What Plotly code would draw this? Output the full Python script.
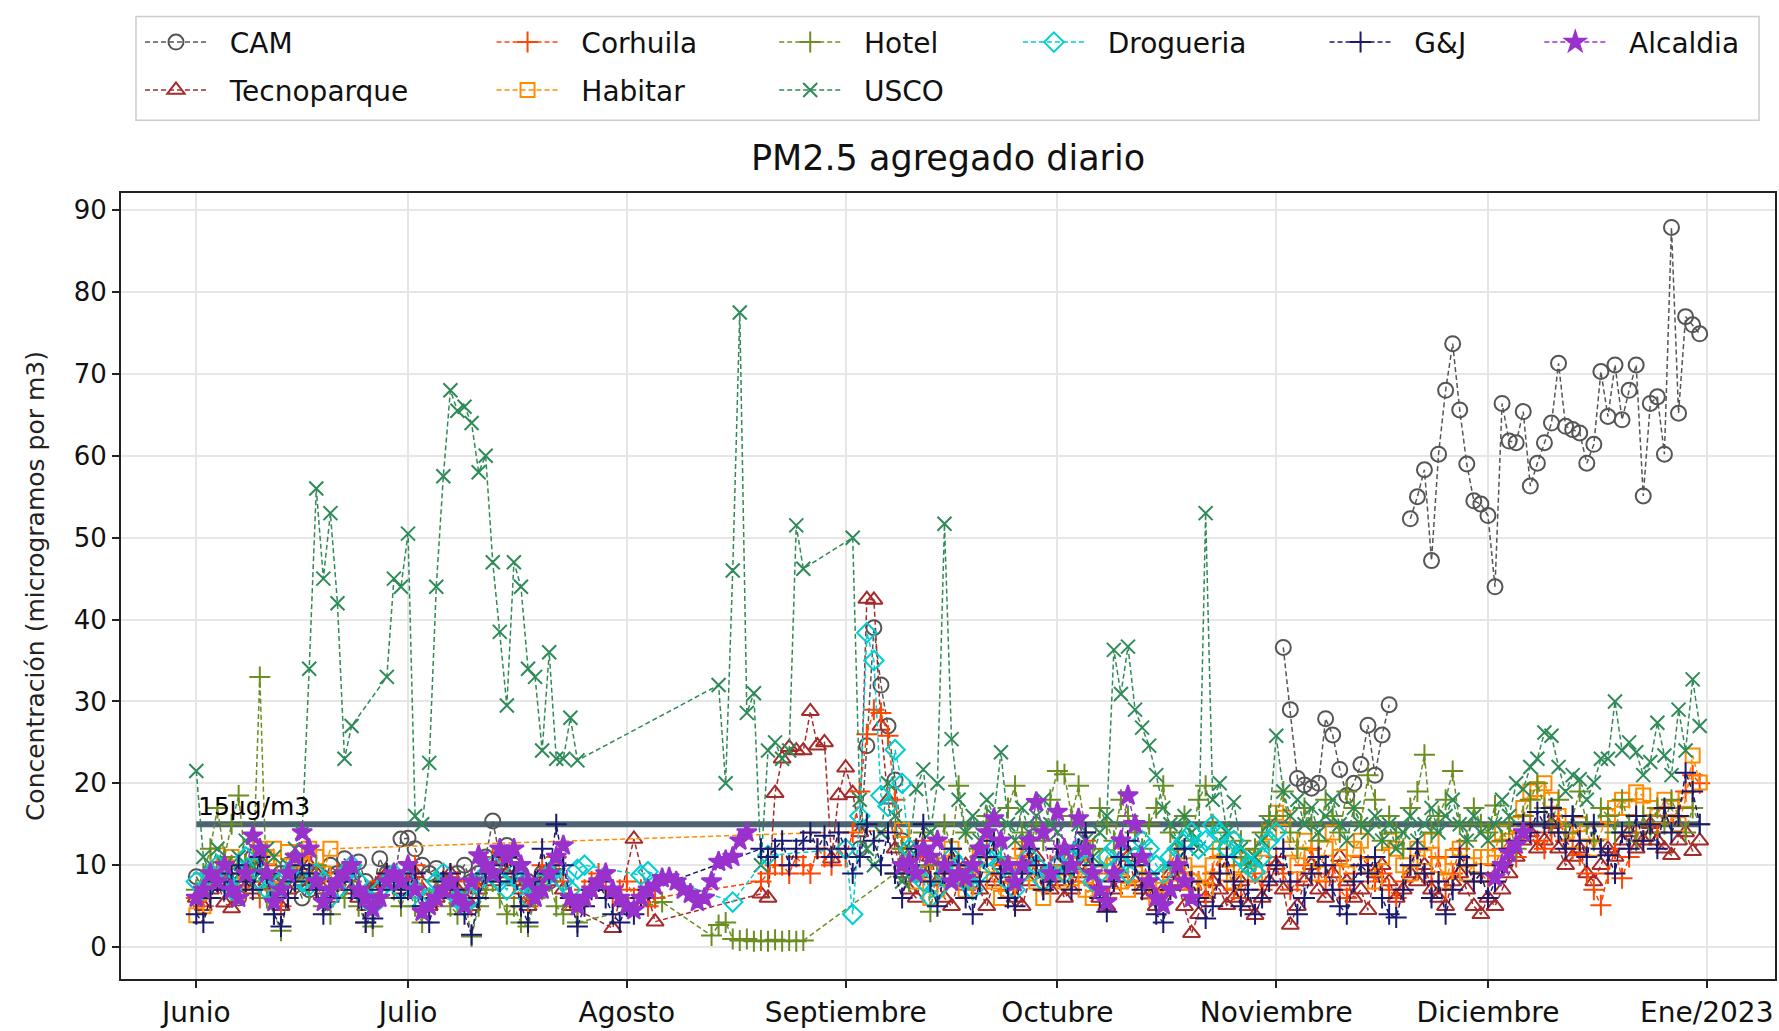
import pandas as pd
import plotly.graph_objects as go

N = None
dates = pd.date_range("2022-06-01", "2022-12-31", freq="D")
month_ticks = ["2022-06-01", "2022-07-01", "2022-08-01", "2022-09-01",
               "2022-10-01", "2022-11-01", "2022-12-01", "2023-01-01"]
month_labels = ["Junio", "Julio", "Agosto", "Septiembre", "Octubre",
                "Noviembre", "Diciembre", "Ene/2023"]
y_ticks = [0, 10, 20, 30, 40, 50, 60, 70, 80, 90]
threshold = 15

# ---------------- CAM ----------------
cam_jun = [8.6, 7, 9, 8, 10, 7, 6, 9, 11, 10, 8, 7, 9, 10, 8, 6, 7, 9, 8, 10, 9, 10.8, 9, 10.4, 8, 7, 10.8, 9, 8, 13.2]
cam_jul = [13.3, 12, 10, 9, 9.6, 8, 7, 9, 10, 8, 9, 11, 15.4, 11, 12.4, 10, 9, 8, 7, 9, 8] + [N] * 10
cam_aug = [N] * 31
cam_sep = [N, N, 12, 24.6, 39, 32, 27, 20.4, 13] + [N] * 21
cam_oct = [N] * 31
cam_nov = [N, 36.6, 29, 20.6, 19.8, 19.4, 20, 27.9, 25.9, 21.7, 18.5, 20, 22.3, 27.1, 21, 25.9, 29.6, N, N,
           52.3, 55, 58.3, 47.2, 60.2, 68.0, 73.7, 65.6, 59, 54.5, 54.1]
cam_dec = [52.7, 44, 66.4, 61.8, 61.6, 65.4, 56.3, 59.1, 61.6, 64, 71.3, 63.6, 63.2, 62.8, 59.1, 61.4,
           70.3, 64.8, 71.1, 64.4, 68, 71.1, 55.1, 66.4, 67.2, 60.2, 87.9, 65.2, 77, 76, 74.9]

# ---------------- Tecnoparque ----------------
tec_jun = [6, 5, 7, 8, 5.4, 4.7, 8, 9, 7, 10, 8, 6, 5, 7, 9, 8, 10, 9, 7, 6, 8, 9, 7, 6, 5, 7, 8, 9, 8, 7]
tec_jul = [8, 9, 7, 5, 6, 8, 9, 7, 6, 5, 7, 9, 8, 10, 9, 8, 7, 5, 7, 9, 8, 10, 7, 5, N, N, N, N, N, 2.3, N]
tec_aug = [N, 13.2, N, N, 3.1] + [N] * 14 + [6.5, 6, 18.8, 23, 24.4, 24, 24, 28.8, 24.6, 25, 10.8, 18.5]
tec_sep = [21.9, 18.8, 14, 42.5, 42.4, 27, 18, 12, 9, 7, 6, 9, 11, 8, 6, 5, 8, 10, 9, 7, 5, 8, 10, 9, 6, 5, 8, 11, 9, 7]
tec_oct = [8, 6, 7, 9, 10, 8, 6, 5, 7, 9, 11, 8, 7, 6.4, 5, 7, 9, 8, 5, 1.7, 4, 6, 8, 7, 5.1, 6, 8, 5, 3.9, 6, 8]
tec_nov = [10, 7, 2.7, 5, 8, 10, 7, 6, 9, 11, 8, 6, 7, 4.5, 9, 10, 8, 6, 7, 9, 8, 10, 7, 6, 5, 8, 9, 7, 5, 4]
tec_dec = [6, 5, 7, 9, 11, 13, 14, 12, 13, 15, 12, 10, 11, 12, 9, 8, 10, 12, 11, 13, 14, 12, 13, 15, 13, 12, 11.2, 13, 14, 11.7, 13]

# ---------------- Corhuila ----------------
cor_jun = [6, 5, 7, 9, 8, 10, 9, 7, 8, 6, 10, 7, 5, 8, 9, 11, 10, 8, 6, 7, 9, 8, 10, 7, 6, 5, 8, 9, 7, 8]
cor_jul = [9, 10, 7, 5, 6, 8, 9, 8, 6, 5, 7, 9, 11, 10, 9, 8, 6, 5, 8, 10, 9, 11, 8, 6, 5, 7, 8, 9, 7, 6, 7]
cor_aug = [8, 6, 7, 5, 6] + [N] * 14 + [8, 9, 10, 10, 9, 11, 10, 9, 12, 11, 10, 12]
cor_sep = [11, 14, 19, 26, 29, 28.6, 25.8, 18, 12, 9, 11, 13, 10, 8, 9, 12, 10, 7, 8, 11, 12, 10, 8, 7, 9, 12, 11, 9, 7, 10]
cor_oct = [12, 10, 8, 11, 13, 9, 7, 6, 9, 11, 12, 10, 8, 9, 6, 7, 10, 12, 9, 7, 8, 6, 9, 11, 10, 7, 6, 8, 9, 7, 10]
cor_nov = [11, 9, 7, 8, 10, 12, 9, 8, 10, 7, 6, 9, 11, 10, 8, 9, 7, 6, 8, 10, 12, 9, 8, 11, 7, 9, 12, 10, 8, 9]
cor_dec = [8, 10, 12, 13, 11, 14, 15, 13, 12, 14, 16, 13, 12, 11.2, 9, 7, 5.1, 9, 12, 8.4, 11, 14, 13, 15, 14, 16, 15, 17, 19, 21, 20]

# ---------------- Habitar ----------------
hab_jun = [3.9, 5, 8, 11.2, 10, 11, 9, 8, 10, 12, 11, 12, 7, 11.6, 9, 10, 12, 11, 9, 12] + [N] * 10
hab_jul = [N] * 31
hab_aug = [N] * 31
hab_sep = [N] * 8 + [14.3, 10, 8, 9, 6, 7, 10, 12, 9, 7, 8, 11, 10, 8, 6, 7, 10, 12, 9, 8, 6, 9]
hab_oct = [9, 8, 8.4, 10, 7, 6, 9, 11, 10, 8, 7, 9, 10, 8, 6, 7, 9, 11, 10, 8, 9, 7, 10, 12, 9, 8, 10, 11, 9, 12, 14]
hab_nov = [16.4, 15.8, 12, 10, 13, 11, 9, 12, 14, 11, 9, 12, 13, 10, 8, 11, 13, 12, 10, 9, 12, 11, 13, 10, 8, 11, 12, 9, 10, 11]
hab_dec = [11, 12, 14, 13, 15, 17, 19, 19.3, 20, 18, 16, 14, 13, 15, 14, 12, 14, 16, 17, 18, 17, 18.9, 18.5, 17, 16, 18, 17, 15, 18, 23.4, 20.1]

# ---------------- Hotel ----------------
hot_jun = [7, 9, 12, 17, 11, 15, 18.5, 10, 8, 33, 6, 4, 2, 6, 8, 9, 7, 10, 5, 4, 7, 6, 8, 5, 3, 2.5, 6, 8, 7, 5]
hot_jul = [7, 5, 3, 6, 8, 7, 5, 4, 6, 1.3, 5, 7, 8, 6, 4, 5, 3, 2.5, 6, 7, 8, 5, 4, 6, 3] + [N] * 6
hot_aug = [N] * 5 + [5.5] + [N] * 6 + [1.4, 2.7, 3.0, 1, 0.8, 1, 0.7, 0.8, 0.7, 0.9, 0.7, 0.8, 0.7, 0.8] + [N] * 5
hot_sep = [N] * 7 + [9, 12, 8, 10, 14, 4.3, 10, 15, 12, 19.7, 14, 10, 12, 16, 13, 11, 17, 19.7, 14, 12, 15, 13, 18]
hot_oct = [21.5, 21.1, 16, 19.7, 14, 12, 17, 15, 13, 18, 16, 14, 12, 15, 17, 19.7, 14, 12, 16, 13, 18, 19.7, 15, 12, 14, 11, 13, 10, 12, 14, 16]
hot_nov = [16, 19, 14, 12, 17, 15, 13, 18, 16, 14, 19, 17, 15, 21, 18, 13, 16, 14, 12, 17, 19, 23.5, 14, 16, 18, 21.5, 15, 13, 17, 15]
hot_dec = [14, 17.3, 13, 15, 12, 16, 18, 20, 17, 15, 18, 14, 16, 19, 15, 13, 17, 16, 14, 18, 15, 13, 16, 14, 17, 15, 18, 16, 14, 17, 15]

# ---------------- USCO ----------------
usc_jun = [21.5, 11, 9, 12, 10, 8, 11, 13, 10, 9, 12, 11, 8, 10, 12, 14, 34, 56, 45, 53, 42, 23, 27, N, N, N, N, 33, 45, 44]
usc_jul = [50.5, 16, 15, 22.5, 44, 57.5, 68, 65.5, 66, 64, 58, 60, 47, 38.5, 29.5, 47, 44, 34, 33, 24, 36, 23, 23, 28, 22.8] + [N] * 6
usc_aug = [N] * 13 + [32, 20, 46, 77.5, 28.6, 31, 10, 24, 25, 23, 24, 51.5, 46.2] + [N] * 5
usc_sep = [N, 50, 18, 12, 10, 14, 20, 16, 8, 12, 19.3, 21.7, 14, 20, 51.7, 25.4, 18, 14, 16, 13, 18, 16, 23.8, 15, 13, 17, 14, 16, 18, 15]
usc_oct = [14, 10, 12, 15, 13, 11, 14, 16, 36.3, 30.9, 36.7, 29, 26.8, 24.6, 21, 17, 15, 13, 16, 14, 12, 53, 18, 20, 14, 17.7, 12, 10, 11, 13, 15]
usc_nov = [25.8, 19, 16, 18, 15, 17, 14, 16, 18, 15, 13, 17, 15, 14, 16, 13, 15, 12, 14, 16, 13, 15, 17, 14, 16, 18, 15, 13, 16, 14]
usc_dec = [13, 15, 18, 16, 20, 19.3, 22, 23, 26.2, 25.8, 22, 19, 21, 20.5, 18, 20.1, 23, 23, 30, 24, 25, 23.8, 21, 22.6, 27.4, 23.4, 21, 29, 24, 32.7, 27]

# ---------------- Drogueria ----------------
dro_jun = [8, 7, 9, 10, 8, 7, 9, 11, 10, 8, 7, 6, 8, 9, 10, 8, 7.5, 9, 8, 6, 7, 9, 10, 8, 6, 5, 7, 8, 9, 7]
dro_jul = [8, 7, 5, 6, 8, 9, 7, 6, 5, 6, 8, 9, 10, 8, 7, 9, 8, 6, 7, 8, 9, 10, 8, 7, 9.5, 10] + [N] * 5
dro_aug = [N, N, 8.8, 9.2] + [N] * 11 + [5.5] + [N] * 4 + [11.2] + [N] * 10
dro_sep = [12, 4, 16, 38.4, 35, 18.5, 17.2, 24.1, 20, 12, 9, 8, 6, 7, 9, 11, 10, 8, 7, 9, 11, 12, 10, 8, 7, 9, 11, 10, 8, 9]
dro_oct = [10, 9, 11, 12, 10, 8, 9, 11, 12, 10, 9, 11, 13, 12, 10, 9, 11, 12, 13, 14, 12, 13, 14.9, 14, 12, 13, 11, 10, 9.2, 11, 13]
dro_nov = [14] + [N] * 29
dro_dec = [N] * 31

# ---------------- G&J ----------------
gj_jun = [4, 3, 6, 8, 7, 9, 10, 8, 7, 11, 9, 4, 2.5, 6, 8, 10, 9, 7, 4, 6, 8, 9, 7, 6, 3, 3.5, 7, 9, 8, 6]
gj_jul = [7, 9, 5, 3, 6, 8, 9, 7, 4, 1.5, 6, 9, 10, 8, 11, 9, 5, 3, 8, 12, 9, 15, 10, 6, 2.5, 5, 7, 8, 6, 4, 3]
gj_aug = [5, 4, 6, 7] + [N] * 15 + [12, 11, 12, 13, 10, 12, 13, 14, 12, 13.6, 11, 14]
gj_sep = [12, 9, 11, 15, 13, 10, 14, 9, 6, 10, 12, 15, 8, 5, 9, 12, 10, 6, 4, 8, 11, 13, 9, 6, 5, 9, 12, 10, 7, 8]
gj_oct = [12, 9, 7, 12, 14, 10, 6, 4.3, 8, 11, 13, 10, 7, 9, 4, 3, 7, 10, 12, 8, 6, 3.5, 5, 9, 11, 8, 5, 7, 4, 6, 8]
gj_nov = [10, 12, 8, 4, 6, 9, 11, 10, 7, 5, 4, 8, 10, 9, 11, 6, 4, 3.6, 7, 10, 12, 9, 6, 8, 4, 7, 11, 10, 8, 9]
gj_dec = [6, 8, 10, 12, 13, 15, 14, 16.5, 15, 17, 14, 12, 16, 13, 11, 15, 12, 11.2, 9, 14, 12, 16, 13, 15, 12, 17, 14, 16, 21.3, 19, 15]

# ---------------- Alcaldia ----------------
alc_jun = [6, 7, 9, 8, 10, 7, 6, 9, 13.6, 12, 9, 5.5, 7, 9, 11, 14, 12, 8, 5.5, 7, 8, 9, 10, 7, 6, 4.7, 6, 8, 9, 8]
alc_jul = [10, 7, 4.3, 5, 6, 7, 8, 6, 5.1, 8, 11.2, 10, 9, 12, 11, 12, 10, 8, 6, 7, 9, 11, 12.4, 6, 5, 6, 7, 8, 9, 7, 6]
alc_aug = [5, 4.5, 6, 7, 7.5, 8.4, 8.5, 8, 7, 6.5, 5.5, 6, 8, 10.4, 10.6, 11, 13, 14] + [N] * 13
alc_sep = [N] * 8 + [10, 10.4, 9, 12, 11, 13, 10, 8, 9, 8.4, 10, 12, 14, 15.7, 13, 10, 7.9, 10, 13, 17.7, 14, 9]
alc_oct = [16.5, 12, 10, 15.7, 12, 9, 7, 5.5, 9, 13, 18.5, 15, 11, 8, 6, 5.1, 7, 10, 8, 6] + [N] * 11
alc_nov = [N] * 30
alc_dec = [N, 8.5, 10, 11.5, 12.5, 14] + [N] * 25

def months(*parts):
    out = []
    for p in parts:
        out.extend(p)
    assert len(out) == len(dates), len(out)
    return out

series = [
    ("CAM", months(cam_jun, cam_jul, cam_aug, cam_sep, cam_oct, cam_nov, cam_dec)),
    ("Tecnoparque", months(tec_jun, tec_jul, tec_aug, tec_sep, tec_oct, tec_nov, tec_dec)),
    ("Corhuila", months(cor_jun, cor_jul, cor_aug, cor_sep, cor_oct, cor_nov, cor_dec)),
    ("Habitar", months(hab_jun, hab_jul, hab_aug, hab_sep, hab_oct, hab_nov, hab_dec)),
    ("Hotel", months(hot_jun, hot_jul, hot_aug, hot_sep, hot_oct, hot_nov, hot_dec)),
    ("USCO", months(usc_jun, usc_jul, usc_aug, usc_sep, usc_oct, usc_nov, usc_dec)),
    ("Drogueria", months(dro_jun, dro_jul, dro_aug, dro_sep, dro_oct, dro_nov, dro_dec)),
    ("G&J", months(gj_jun, gj_jul, gj_aug, gj_sep, gj_oct, gj_nov, gj_dec)),
    ("Alcaldia", months(alc_jun, alc_jul, alc_aug, alc_sep, alc_oct, alc_nov, alc_dec)),
]

styles = {
    "CAM":         dict(color="#555555", symbol="circle-open", size=15, connect=False),
    "Tecnoparque": dict(color="#a52a2a", symbol="triangle-up-open", size=15, connect=True),
    "Corhuila":    dict(color="#ff4500", symbol="cross-thin-open", size=15, connect=True),
    "Habitar":     dict(color="#ff8c00", symbol="square-open", size=14, connect=True),
    "Hotel":       dict(color="#6b8e23", symbol="cross-thin-open", size=15, connect=True),
    "USCO":        dict(color="#2e8b57", symbol="x-thin-open", size=14, connect=True),
    "Drogueria":   dict(color="#00ced1", symbol="diamond-open", size=15, connect=True),
    "G&J":         dict(color="#191970", symbol="cross-thin-open", size=15, connect=True),
    "Alcaldia":    dict(color="#9932cc", symbol="star", size=15, connect=False),
}

# legend layout (pixel positions in the 1779x1031 page)
PL, PR, PT, PB = 121, 1777, 193, 981
def px_x(px):
    return (px - PL) / (PR - PL)
def px_y(py):
    return (PB - py) / (PB - PT)

legend_pos = {
    "CAM": (176, 42), "Tecnoparque": (176, 90),
    "Corhuila": (528, 42), "Habitar": (528, 90),
    "Hotel": (811, 42), "USCO": (811, 90),
    "Drogueria": (1055, 42), "G&J": (1362, 42), "Alcaldia": (1577, 42),
}
ITEMW = 62

fig = go.Figure()

fig.add_trace(go.Scatter(
    x=[dates[0], dates[-1]], y=[threshold, threshold], mode="lines",
    line=dict(color="#4d6272", width=6), showlegend=False, hoverinfo="skip"))

layout_legends = {}
for i, (name, vals) in enumerate(series):
    st = styles[name]
    lname = "legend" if i == 0 else f"legend{i + 1}"
    fig.add_trace(go.Scatter(
        x=dates, y=vals, name="\u00a0\u00a0" + name, mode="lines+markers",
        connectgaps=st["connect"], legend=lname,
        line=dict(color=st["color"], width=1.5, dash="5px,3px"),
        marker=dict(symbol=st["symbol"], size=st["size"], color=st["color"],
                    line=dict(color=st["color"], width=2)),
    ))
    cx, cy = legend_pos[name]
    layout_legends[lname] = dict(
        x=px_x(cx - 5 - ITEMW / 2), y=px_y(cy), xanchor="left", yanchor="middle",
        xref="paper", yref="paper", bgcolor="rgba(0,0,0,0)", borderwidth=0,
        itemwidth=ITEMW, font=dict(family="DejaVu Sans", size=28, color="#111111"),
    )

fig.add_annotation(
    x=dates[0], y=threshold, text="15µg/m3", showarrow=False,
    xanchor="left", yanchor="bottom", yshift=1,
    font=dict(family="DejaVu Sans", size=25, color="#000000"))

fig.add_annotation(
    x=px_x(35), y=0.5, xref="paper", yref="paper", textangle=-90,
    text="Concentración (microgramos por m3)", showarrow=False,
    xanchor="center", yanchor="middle",
    font=dict(family="DejaVu Sans", size=25, color="#222222"))

fig.add_shape(type="rect", xref="paper", yref="paper",
              x0=px_x(136), x1=px_x(1761), y0=px_y(120), y1=px_y(16),
              line=dict(color="#cccccc", width=1.5), fillcolor="white", layer="below")

fig.update_layout(
    width=1779, height=1031,
    margin=dict(l=PL, r=1779 - PR, t=PT, b=1031 - PB),
    paper_bgcolor="white", plot_bgcolor="white",
    font=dict(family="DejaVu Sans", color="#222222"),
    title=dict(text="PM2.5 agregado diario", x=0.5, xref="paper",
               y=1 - 158 / 1031, yref="container", xanchor="center", yanchor="middle",
               font=dict(family="DejaVu Sans", size=35, color="#111111")),
    xaxis=dict(range=["2022-05-21 08:00", "2023-01-10 16:00"],
               tickvals=month_ticks, ticktext=month_labels,
               tickfont=dict(size=28, color="#111111"),
               showgrid=True, gridcolor="#e6e6e6", gridwidth=1.5,
               showline=True, mirror=True, linecolor="#222222", linewidth=2,
               ticks="outside", ticklen=7, tickwidth=2, tickcolor="#222222",
               zeroline=False),
    yaxis=dict(range=[-3.9, 92.1], tickvals=y_ticks,
               tickfont=dict(size=26, color="#111111"),
               showgrid=True, gridcolor="#e6e6e6", gridwidth=1.5,
               showline=True, mirror=True, linecolor="#222222", linewidth=2,
               ticks="outside", ticklen=7, tickwidth=2, tickcolor="#222222",
               zeroline=False),
    **layout_legends,
)

fig.write_html("out.html", config={"displayModeBar": False},
               post_script="document.body.style.margin='0';document.body.style.overflow='hidden';")
